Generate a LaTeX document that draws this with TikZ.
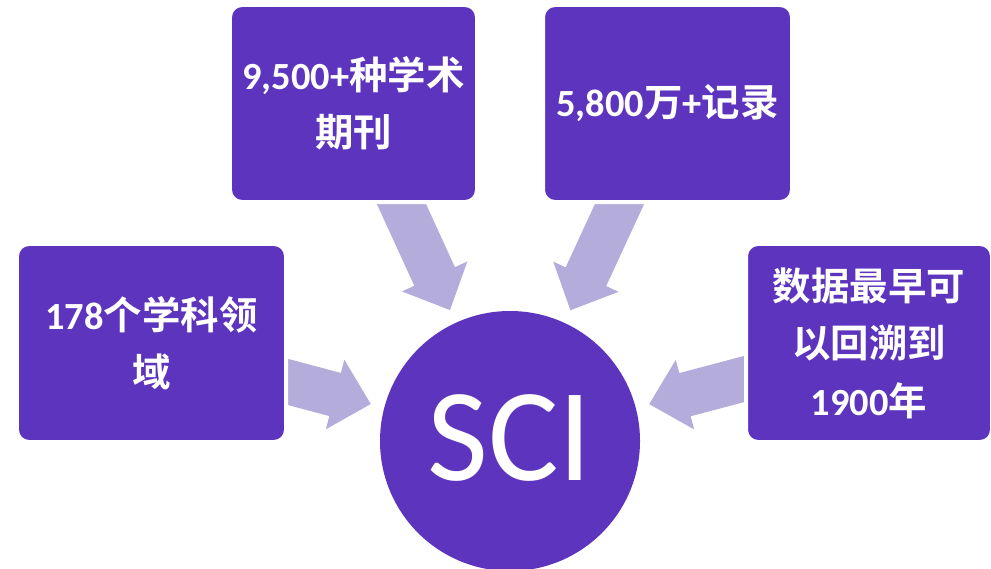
\documentclass[tikz,border=0pt]{standalone}
\usepackage{fontspec}
\setmainfont{Carlito}
\newfontfamily\lat{Carlito}
\newfontfamily\cjk{Noto Sans CJK SC}[BoldFont={Noto Sans CJK SC Bold}]
\usetikzlibrary{calc,backgrounds}
\definecolor{boxc}{RGB}{93,52,189}
\definecolor{arrowc}{RGB}{180,173,220}
\newcommand\blockarrow[2]{%
  \coordinate (tip) at ($(#2)!4.32cm!(#1)$);
  \coordinate (hb) at ($(tip)!1.11cm!(#1)$);
  \fill[arrowc] ($(#1)!0.67cm!90:(tip)$) -- ($(hb)!0.67cm!90:(tip)$) -- ($(hb)!1.08cm!90:(tip)$) -- (tip)
     -- ($(hb)!1.08cm!-90:(tip)$) -- ($(hb)!0.67cm!-90:(tip)$) -- ($(#1)!0.67cm!-90:(tip)$) -- cycle;
}
\begin{document}
\begin{tikzpicture}[x=0.03cm,y=-0.03cm,
  box/.style={rectangle, rounded corners=0.36cm, fill=boxc, draw=white, line width=0.12cm,
    text=white, align=center, inner sep=0pt, font=\fontsize{32.8}{49}\selectfont\bfseries}]
\useasboundingbox (0,0) rectangle (991,569);
\node[box, minimum width=7.41cm, minimum height=5.91cm] (tl) at (353.5,103.5) {{\lat 9,500+}{\cjk 种学术}\\{\cjk 期刊}};
\node[box, minimum width=7.47cm, minimum height=5.91cm] (tr) at (667.5,103.5) {{\lat 5,800}{\cjk 万}{\lat +}{\cjk 记录}};
\node[box, minimum width=8.07cm, minimum height=5.94cm] (lf) at (151.5,343) {{\lat 178}{\cjk 个学科领}\\{\cjk 域}};
\node[box, minimum width=7.38cm, minimum height=5.94cm] (rt) at (869,343) {{\cjk 数据最早可}\\{\cjk 以回溯到}\\{\lat 1900}{\cjk 年}};
\node[circle, fill=boxc, minimum size=7.8cm, inner sep=0pt, text=white, font=\fontsize{113}{113}\selectfont] (sci) at (510,441) {\raisebox{0.21cm}{SCI}};
\coordinate (sTL) at (395,190);
\coordinate (sTR) at (626,190);
\coordinate (sL) at (258,374);
\coordinate (sR) at (763,374);
\begin{scope}[on background layer]
  \blockarrow{sTL}{sci.center}
  \blockarrow{sTR}{sci.center}
  \blockarrow{sL}{sci.center}
  \blockarrow{sR}{sci.center}
\end{scope}
\end{tikzpicture}
\end{document}
